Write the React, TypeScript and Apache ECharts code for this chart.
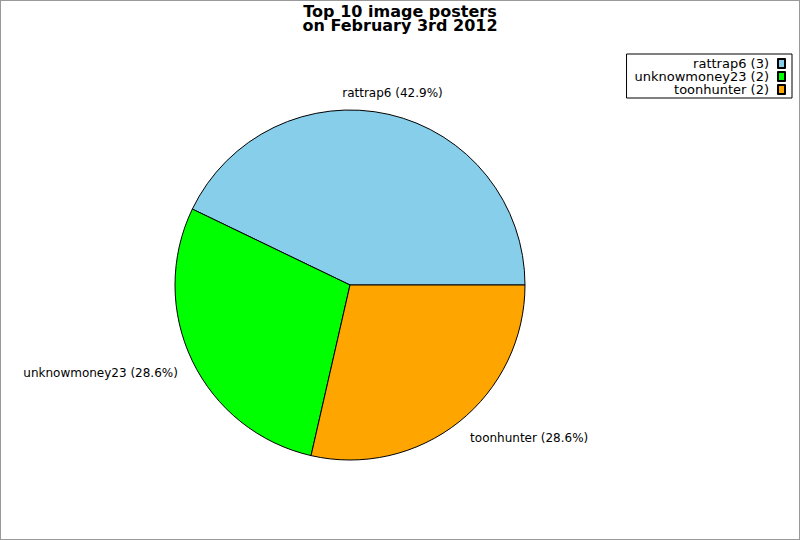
import React, { useEffect, useRef } from "react";
import * as echarts from "echarts";

const names = ["rattrap6", "unknowmoney23", "toonhunter"];
const counts = [3, 2, 2];
const colors = ["#87CEEB", "#00FF00", "#FFA500"];
const titleLines = ["Top 10 image posters", "on February 3rd 2012"];

export default function App() {
  const ref = useRef<HTMLDivElement>(null);
  useEffect(() => {
    document.body.style.margin = "0";
    const chart = echarts.init(ref.current!, null, { renderer: "svg" });
    const total = counts.reduce((a, b) => a + b, 0);
    const data = names.map((n, i) => ({ name: n, value: counts[i], itemStyle: { color: colors[i] } }));
    const nudges = [
      [-5, -6],
      [5, 5],
      [-4, 4],
    ];
    chart.setOption({
      animation: false,
      backgroundColor: "#fff",
      textStyle: { fontFamily: "DejaVu Sans" },
      title: {
        text: titleLines.join("\n"),
        left: "center",
        top: -2,
        textStyle: { fontSize: 16, fontWeight: "bold", color: "#000", lineHeight: 14, fontFamily: "DejaVu Sans" },
      },
      legend: {
        orient: "vertical",
        right: 7,
        top: 53,
        align: "right",
        itemGap: 0,
        itemWidth: 7,
        itemHeight: 9,
        icon: "rect",
        borderColor: "#000",
        borderWidth: 1,
        borderRadius: 0,
        padding: [3, 6, 2, 8],
        textStyle: { fontSize: 13, color: "#000", lineHeight: 11.5, padding: [0, 4, 0, 0], fontFamily: "DejaVu Sans" },
        formatter: (n: string) => `${n} (${counts[names.indexOf(n)]})`,
        data: names,
      },
      series: [
        {
          type: "pie",
          center: [349, 284],
          radius: 175,
          startAngle: 0,
          clockwise: false,
          itemStyle: { borderColor: "#000", borderWidth: 1 },
          emphasis: { disabled: true },
          label: {
            show: true,
            position: "outside",
            fontSize: 12,
            color: "#000",
            fontFamily: "DejaVu Sans",
            formatter: (p: any) => `${p.name} (${((p.value / total) * 100).toFixed(1)}%)`,
          },
          labelLine: { show: false, length: 16, length2: 0 },
          labelLayout: (p: any) => {
            const [dx, dy] = nudges[p.dataIndex];
            return { dx: dx - (p.dataIndex === 0 ? p.labelRect.width / 2 : 0), dy };
          },
          data,
        },
      ],
    });
    return () => chart.dispose();
  }, []);
  return (
    <div
      ref={ref}
      style={{ width: 800, height: 540, boxSizing: "border-box", border: "1px solid #999" }}
    />
  );
}
